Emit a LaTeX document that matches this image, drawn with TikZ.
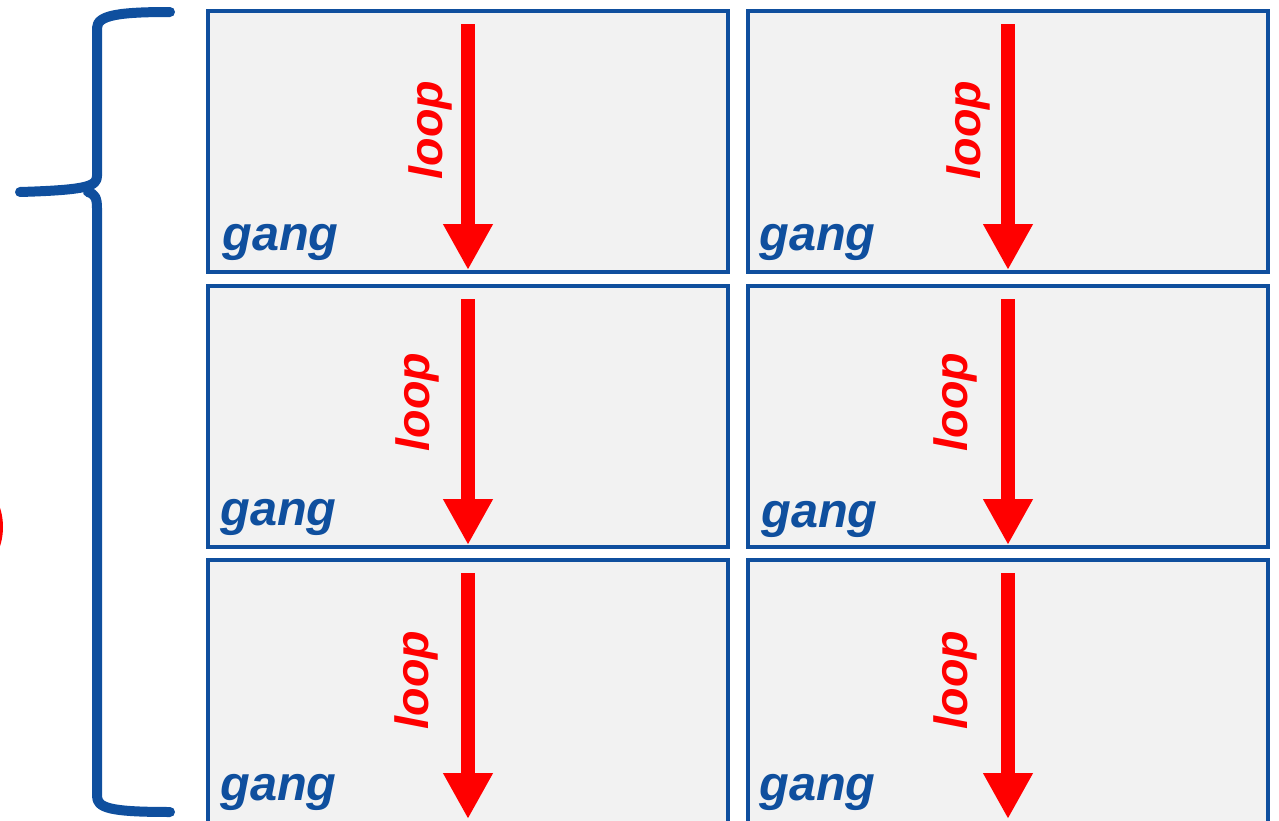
\documentclass[tikz,border=0pt]{standalone}
\usepackage{fontspec}
\setmainfont{Liberation Sans}
\usetikzlibrary{arrows.meta}
\definecolor{bblue}{HTML}{0F4F9E}
\definecolor{boxfill}{HTML}{F2F2F2}
\definecolor{rred}{HTML}{FF0000}
\tikzset{
  panel/.style={draw=bblue, fill=boxfill, line width=3pt, outer sep=0pt, inner sep=0pt},
  loopflow/.style={draw=rred, line width=10.5pt, -{Triangle[width=35pt,length=34.5pt]}},
  looplabel/.style={text=rred, font=\fontsize{35}{38}\selectfont\bfseries\itshape, rotate=90, inner sep=0pt},
  ganglabel/.style={text=bblue, font=\fontsize{36.5}{40}\selectfont\bfseries\itshape, anchor=base west, inner sep=0pt},
  bracestyle/.style={draw=bblue, line width=7.5pt, line cap=round, line join=round}
}
\begin{document}
\begin{tikzpicture}[x=0.75pt,y=-0.75pt]
\useasboundingbox (0,0) rectangle (1279,821);
\clip (0,0) rectangle (1279,821);
% red partial shape at left edge
\draw[rred, line width=2.25pt] (-60,527) circle[radius=61.5];
% brace
\draw[bracestyle] (170,12) .. controls (120,12) and (97,15) .. (97,28)
  -- (97,176) .. controls (97,186) and (88,190) .. (20,192);
\draw[bracestyle] (88,192) .. controls (95,194) and (97,198) .. (97,208)
  -- (97,796) .. controls (97,808) and (110,812) .. (170,812);
% panels
\foreach \col/\x in {1/208,2/748}{
  \foreach \row/\y/\h in {1/11/195.75,2/286/195.75,3/560/200}{
    \node[panel, minimum width=390pt, minimum height=\h pt, anchor=north west]
      (p\col\row) at (\x,\y) {};
  }
}
% arrows
\foreach \col/\ax in {1/468,2/1008}{
  \foreach \row/\y in {1/11,2/286,3/560}{
    \coordinate (s\col\row) at (\ax,\y+13);
    \coordinate (e\col\row) at (\ax,\y+259);
    \draw[loopflow] (s\col\row) -- (e\col\row);
  }
}
\node[looplabel] (l11) at (430,130) {loop};
\node[looplabel] (l12) at (417,402) {loop};
\node[looplabel] (l13) at (416,680) {loop};
\node[looplabel] (l21) at (968,130) {loop};
\node[looplabel] (l22) at (955,402) {loop};
\node[looplabel] (l23) at (955,680) {loop};
\node[ganglabel] (g11) at (222,250) {gang};
\node[ganglabel] (g12) at (220,525) {gang};
\node[ganglabel] (g13) at (220,800) {gang};
\node[ganglabel] (g21) at (759,250) {gang};
\node[ganglabel] (g22) at (761,527) {gang};
\node[ganglabel] (g23) at (759,800) {gang};
\end{tikzpicture}
\end{document}
